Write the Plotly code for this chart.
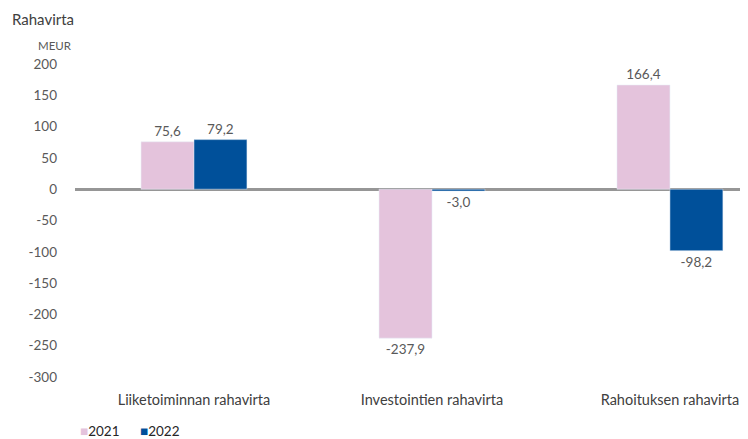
import plotly.graph_objects as go

# Data
categories = ["Liiketoiminnan rahavirta", "Investointien rahavirta", "Rahoituksen rahavirta"]
series_names = ["2021", "2022"]
values_2021 = [75.6, -237.9, 166.4]
values_2022 = [79.2, -3.0, -98.2]
labels_2021 = ["75,6", "-237,9", "166,4"]
labels_2022 = ["79,2", "-3,0", "-98,2"]
tick_vals = [200, 150, 100, 50, 0, -50, -100, -150, -200, -250, -300]
tick_text = ["200", "150", "100", "50", "0", "-50", "-100", "-150", "-200", "-250", "-300"]

FONT = "Lato, Open Sans, sans-serif"
GREY_TXT = "#595959"
PINK = "#E4C3DC"
BLUE = "#00509A"

fig = go.Figure()
fig.add_trace(go.Bar(x=categories, y=values_2021, name=series_names[0], marker_color=PINK,
                     text=labels_2021, textposition="outside", cliponaxis=False,
                     textfont=dict(color=GREY_TXT, size=13.5)))
fig.add_trace(go.Bar(x=categories, y=values_2022, name=series_names[1], marker_color=BLUE,
                     text=labels_2022, textposition="outside", cliponaxis=False,
                     textfont=dict(color=GREY_TXT, size=13.5)))

# page body has an 8px margin, so the figure is 8px smaller than the window
fig.update_layout(
    width=740, height=431,
    margin=dict(l=67, r=0, t=56, b=62),
    paper_bgcolor="white", plot_bgcolor="white",
    font=dict(family=FONT, size=13, color=GREY_TXT),
    barmode="group", bargap=0.555, bargroupgap=0,
    showlegend=False,
    xaxis=dict(range=[-0.5, 2.328], showline=False, showgrid=False, ticks="",
               automargin=False,
               tickfont=dict(size=14.5, color="#404040"), ticklabelstandoff=12),
    yaxis=dict(range=[-300, 200], tickvals=tick_vals, ticktext=tick_text,
               showgrid=False, showline=False,
               automargin=False, ticks="", ticklabelstandoff=17,
               zeroline=True, zerolinecolor="#969696", zerolinewidth=3,
               tickfont=dict(size=13.5, color=GREY_TXT)),
)

# title and unit
fig.add_annotation(text="Rahavirta", xref="paper", yref="paper", x=-0.096, y=1.178,
                   xanchor="left", yanchor="top", showarrow=False,
                   font=dict(size=15, color="#404040"))
fig.add_annotation(text="MEUR", xref="paper", yref="paper", x=-0.058, y=1.086,
                   xanchor="left", yanchor="top", showarrow=False,
                   font=dict(size=11.5, color=GREY_TXT))

# legend drawn as text
for name, colour, xpos in [(series_names[0], PINK, 0.004), (series_names[1], BLUE, 0.094)]:
    fig.add_annotation(text=f"<span style='color:{colour}'>■</span>{name}",
                       xref="paper", yref="paper", x=xpos, y=-0.171,
                       xanchor="left", yanchor="middle", showarrow=False,
                       font=dict(size=13.5, color="#262626"))

fig.write_html("out.html")
